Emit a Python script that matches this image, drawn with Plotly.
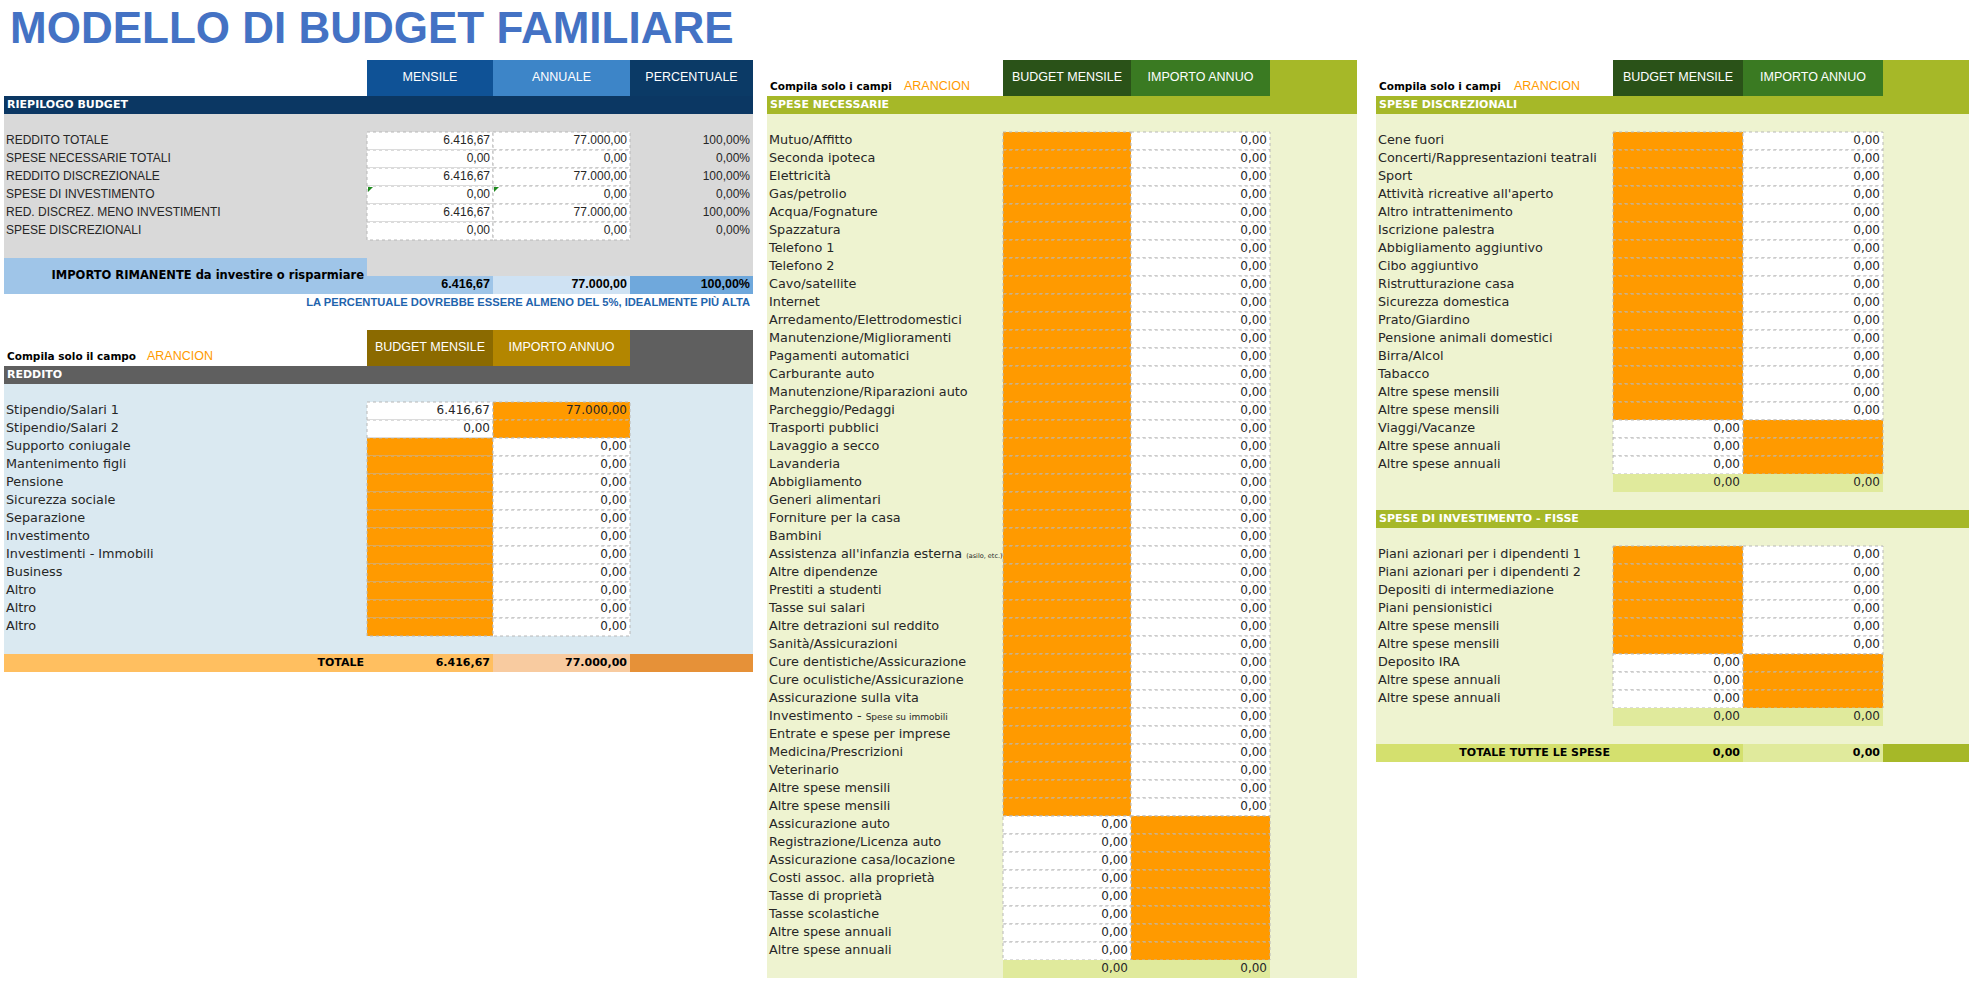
import plotly.graph_objects as go

# ---------------- dati ----------------
titolo = "MODELLO DI BUDGET FAMILIARE"

intest_riepilogo = ["MENSILE", "ANNUALE", "PERCENTUALE"]
intest_budget = ["BUDGET MENSILE", "IMPORTO ANNUO"]

riepilogo_voci = ["REDDITO TOTALE", "SPESE NECESSARIE TOTALI", "REDDITO DISCREZIONALE",
                  "SPESE DI INVESTIMENTO", "RED. DISCREZ. MENO INVESTIMENTI", "SPESE DISCREZIONALI"]
riepilogo_mensile = [6416.67, 0, 6416.67, 0, 6416.67, 0]
riepilogo_annuale = [77000, 0, 77000, 0, 77000, 0]
riepilogo_perc = [100, 0, 100, 0, 100, 0]
rimanente = [6416.67, 77000.00, 100.00]

reddito_voci = ["Stipendio/Salari 1", "Stipendio/Salari 2", "Supporto coniugale", "Mantenimento figli",
                "Pensione", "Sicurezza sociale", "Separazione", "Investimento", "Investimenti - Immobili",
                "Business", "Altro", "Altro", "Altro"]
reddito_input = ["A", "A"] + ["M"] * 11          # colonna arancione da compilare
reddito_inserito = [77000, None] + [None] * 11    # valore nella cella arancione
reddito_calcolato = [6416.67, 0] + [0] * 11       # valore nell'altra colonna
reddito_totale = [6416.67, 77000.00]

nec_voci = ["Mutuo/Affitto", "Seconda ipoteca", "Elettricità", "Gas/petrolio", "Acqua/Fognature",
            "Spazzatura", "Telefono 1", "Telefono 2", "Cavo/satellite", "Internet",
            "Arredamento/Elettrodomestici", "Manutenzione/Miglioramenti", "Pagamenti automatici",
            "Carburante auto", "Manutenzione/Riparazioni auto", "Parcheggio/Pedaggi", "Trasporti pubblici",
            "Lavaggio a secco", "Lavanderia", "Abbigliamento", "Generi alimentari", "Forniture per la casa",
            "Bambini", "Assistenza all'infanzia esterna <span style='font-size:6.5px'>(asilo, etc.)</span>",
            "Altre dipendenze", "Prestiti a studenti", "Tasse sui salari", "Altre detrazioni sul reddito",
            "Sanità/Assicurazioni", "Cure dentistiche/Assicurazione", "Cure oculistiche/Assicurazione",
            "Assicurazione sulla vita", "Investimento - <span style='font-size:9px'>Spese su immobili</span>",
            "Entrate e spese per imprese", "Medicina/Prescrizioni", "Veterinario", "Altre spese mensili",
            "Altre spese mensili", "Assicurazione auto", "Registrazione/Licenza auto",
            "Assicurazione casa/locazione", "Costi assoc. alla proprietà", "Tasse di proprietà",
            "Tasse scolastiche", "Altre spese annuali", "Altre spese annuali"]
nec_input = ["M"] * 38 + ["A"] * 8
nec_calcolato = [0] * 46
nec_totale = [0, 0]

disc_voci = ["Cene fuori", "Concerti/Rappresentazioni teatrali", "Sport", "Attività ricreative all'aperto",
             "Altro intrattenimento", "Iscrizione palestra", "Abbigliamento aggiuntivo", "Cibo aggiuntivo",
             "Ristrutturazione casa", "Sicurezza domestica", "Prato/Giardino", "Pensione animali domestici",
             "Birra/Alcol", "Tabacco", "Altre spese mensili", "Altre spese mensili", "Viaggi/Vacanze",
             "Altre spese annuali", "Altre spese annuali"]
disc_input = ["M"] * 16 + ["A"] * 3
disc_calcolato = [0] * 19
disc_totale = [0, 0]

inv_voci = ["Piani azionari per i dipendenti 1", "Piani azionari per i dipendenti 2",
            "Depositi di intermediazione", "Piani pensionistici", "Altre spese mensili",
            "Altre spese mensili", "Deposito IRA", "Altre spese annuali", "Altre spese annuali"]
inv_input = ["M"] * 6 + ["A"] * 3
inv_calcolato = [0] * 9
inv_totale = [0, 0]

totale_spese = [0, 0]

# ---------------- stile ----------------
W, H = 1979, 987
RH = 18
NARROW = "Liberation Sans, Arial, sans-serif"
GOTH = "DejaVu Sans, sans-serif"
ARANCIO = "#FF9A00"
VERDE_CHIARO = "#EEF3D0"
OLIVA = "#A6B828"
LIME = "#E0EA9C"
TXT = "#262626"

shapes = []
testi = {}


def fmt(v, perc=False):
    if v is None:
        return ""
    s = f"{v:,.2f}".replace(",", "X").replace(".", ",").replace("X", ".")
    return s + "%" if perc else s


def box(x0, x1, y0, y1, colore, bordo=False):
    linea = dict(color="#b8b8b8", width=1, dash="dot") if bordo else dict(width=0)
    shapes.append(dict(type="rect", xref="x", yref="y", x0=x0, x1=x1, y0=y0, y1=y1,
                       fillcolor=colore, line=linea, layer="below"))


def scrivi(x, y, t, fam=GOTH, size=12.8, col=TXT, pos="middle right"):
    k = (fam, size, col, pos)
    d = testi.setdefault(k, ([], [], []))
    d[0].append(x)
    d[1].append(y)
    d[2].append(t)


def righe(x_lab, x_m, x_a, x_r, y_top, voci, tipo, calcolato, inserito=None):
    for i, voce in enumerate(voci):
        y0 = y_top + i * RH
        yc = y0 + RH / 2
        scrivi(x_lab, yc, voce)
        val_in = inserito[i] if inserito else None
        if tipo[i] == "M":
            box(x_m, x_a, y0, y0 + RH, ARANCIO, True)
            box(x_a, x_r, y0, y0 + RH, "white", True)
            scrivi(x_r - 3, yc, fmt(calcolato[i]), size=12, pos="middle left")
            if val_in is not None:
                scrivi(x_a - 3, yc, fmt(val_in), size=12, pos="middle left")
        else:
            box(x_m, x_a, y0, y0 + RH, "white", True)
            box(x_a, x_r, y0, y0 + RH, ARANCIO, True)
            scrivi(x_a - 3, yc, fmt(calcolato[i]), size=12, pos="middle left")
            if val_in is not None:
                scrivi(x_r - 3, yc, fmt(val_in), size=12, pos="middle left")
    return y_top + len(voci) * RH


def intestazioni(xs, colori, y0, y1, etichette, col="white"):
    for i, c in enumerate(colori):
        box(xs[i], xs[i + 1], y0, y1, c)
        if i < len(etichette):
            scrivi((xs[i] + xs[i + 1]) / 2, (y0 + y1) / 2, etichette[i], NARROW, 12.5, col, "middle center")


# ---------------- titolo ----------------
scrivi(10, 32, "<b>" + titolo + "</b>", NARROW, 44, "#4472C4")

# ---------------- riepilogo budget ----------------
L = [4, 367, 493, 630, 753]
intestazioni(L[1:], ["#0F5296", "#3D85C8", "#0B3A66"], 60, 96, intest_riepilogo)
box(L[0], L[4], 96, 114, "#0B3763")
scrivi(7, 105, "<b>RIEPILOGO BUDGET</b>", GOTH, 11, "white")
box(L[0], L[4], 114, 276, "#D9D9D9")
for i, voce in enumerate(riepilogo_voci):
    y0 = 132 + i * RH
    yc = y0 + RH / 2
    box(L[1], L[2], y0, y0 + RH, "white", True)
    box(L[2], L[3], y0, y0 + RH, "white", True)
    scrivi(6, yc, voce, NARROW, 12)
    scrivi(L[2] - 3, yc, fmt(riepilogo_mensile[i]), NARROW, 12, pos="middle left")
    scrivi(L[3] - 3, yc, fmt(riepilogo_annuale[i]), NARROW, 12, pos="middle left")
    scrivi(L[4] - 3, yc, fmt(riepilogo_perc[i], True), NARROW, 12, pos="middle left")
    if voce == "SPESE DI INVESTIMENTO":
        for xx in (L[1], L[2]):
            shapes.append(dict(type="path", xref="x", yref="y", fillcolor="#1E8A1E", line=dict(width=0),
                               path=f"M {xx + 1},{y0 + 1} L {xx + 6},{y0 + 1} L {xx + 1},{y0 + 6} Z"))
box(L[0], L[1], 258, 294, "#9FC5E8")
for i, c in enumerate(["#9FC5E8", "#CFE2F3", "#6FA8DC"]):
    box(L[i + 1], L[i + 2], 276, 294, c)
    scrivi(L[i + 2] - 3, 285, "<b>" + fmt(rimanente[i], i == 2) + "</b>", NARROW, 12.5, "black", "middle left")
scrivi(L[1] - 3, 276, "<b>IMPORTO RIMANENTE da investire o risparmiare</b>", GOTH, 11.5, "black", "middle left")
scrivi(L[4] - 3, 303, "<b>LA PERCENTUALE DOVREBBE ESSERE ALMENO DEL 5%, IDEALMENTE PIÙ ALTA</b>",
       NARROW, 11.2, "#1F64AD", "middle left")

# ---------------- reddito ----------------
scrivi(7, 357, "<b>Compila solo il campo</b>", GOTH, 10.5, "black")
scrivi(147, 357, "ARANCION", NARROW, 12.5, ARANCIO)
intestazioni(L[1:], ["#8B6A00", "#B38600", "#5F5F5F"], 330, 366, intest_budget)
box(L[0], L[4], 366, 384, "#5F5F5F")
scrivi(7, 375, "<b>REDDITO</b>", GOTH, 11, "white")
box(L[0], L[4], 384, 654, "#DAE9F1")
righe(6, L[1], L[2], L[3], 402, reddito_voci, reddito_input, reddito_calcolato, reddito_inserito)
box(L[0], L[2], 654, 672, "#FFBF60")
box(L[2], L[3], 654, 672, "#F8CBA0")
box(L[3], L[4], 654, 672, "#E69138")
scrivi(L[1] - 3, 663, "<b>TOTALE</b>", GOTH, 11, "black", "middle left")
scrivi(L[2] - 3, 663, "<b>" + fmt(reddito_totale[0]) + "</b>", GOTH, 11, "black", "middle left")
scrivi(L[3] - 3, 663, "<b>" + fmt(reddito_totale[1]) + "</b>", GOTH, 11, "black", "middle left")

# ---------------- spese necessarie ----------------
M = [767, 1003, 1131, 1270, 1357]
intestazioni(M[1:], ["#2A5218", "#3A7A22", OLIVA], 60, 96, intest_budget)
scrivi(770, 87, "<b>Compila solo i campi</b>", GOTH, 10.5, "black")
scrivi(904, 87, "ARANCION", NARROW, 12.5, ARANCIO)
box(M[0], M[4], 96, 114, OLIVA)
scrivi(770, 105, "<b>SPESE NECESSARIE</b>", GOTH, 11, "white")
box(M[0], M[4], 114, 978, VERDE_CHIARO)
y = righe(769, M[1], M[2], M[3], 132, nec_voci, nec_input, nec_calcolato)
box(M[1], M[3], y, y + RH, LIME)
scrivi(M[2] - 3, y + 9, fmt(nec_totale[0]), size=12, pos="middle left")
scrivi(M[3] - 3, y + 9, fmt(nec_totale[1]), size=12, pos="middle left")

# ---------------- spese discrezionali / investimento ----------------
R = [1376, 1613, 1743, 1883, 1969]
intestazioni(R[1:], ["#2A5218", "#3A7A22", OLIVA], 60, 96, intest_budget)
scrivi(1379, 87, "<b>Compila solo i campi</b>", GOTH, 10.5, "black")
scrivi(1514, 87, "ARANCION", NARROW, 12.5, ARANCIO)
box(R[0], R[4], 96, 114, OLIVA)
scrivi(1379, 105, "<b>SPESE DISCREZIONALI</b>", GOTH, 11, "white")
box(R[0], R[4], 114, 762, VERDE_CHIARO)
y = righe(1378, R[1], R[2], R[3], 132, disc_voci, disc_input, disc_calcolato)
box(R[1], R[3], y, y + RH, LIME)
scrivi(R[2] - 3, y + 9, fmt(disc_totale[0]), size=12, pos="middle left")
scrivi(R[3] - 3, y + 9, fmt(disc_totale[1]), size=12, pos="middle left")

yb = y + 2 * RH
box(R[0], R[4], yb, yb + RH, OLIVA)
scrivi(1379, yb + 9, "<b>SPESE DI INVESTIMENTO - FISSE</b>", GOTH, 11, "white")
y = righe(1378, R[1], R[2], R[3], yb + 2 * RH, inv_voci, inv_input, inv_calcolato)
box(R[1], R[3], y, y + RH, LIME)
scrivi(R[2] - 3, y + 9, fmt(inv_totale[0]), size=12, pos="middle left")
scrivi(R[3] - 3, y + 9, fmt(inv_totale[1]), size=12, pos="middle left")

yt = y + 2 * RH
box(R[0], R[2], yt, yt + RH, "#D4E06E")
box(R[2], R[3], yt, yt + RH, LIME)
box(R[3], R[4], yt, yt + RH, OLIVA)
scrivi(R[1] - 3, yt + 9, "<b>TOTALE TUTTE LE SPESE</b>", GOTH, 11, "black", "middle left")
scrivi(R[2] - 3, yt + 9, "<b>" + fmt(totale_spese[0]) + "</b>", GOTH, 11, "black", "middle left")
scrivi(R[3] - 3, yt + 9, "<b>" + fmt(totale_spese[1]) + "</b>", GOTH, 11, "black", "middle left")

# ---------------- figura ----------------
fig = go.Figure()
for (fam, size, col, pos), (xs, ys, ts) in testi.items():
    fig.add_trace(go.Scatter(x=xs, y=ys, text=ts, mode="text", textposition=pos,
                             textfont=dict(family=fam, size=size, color=col),
                             hoverinfo="skip", showlegend=False, cliponaxis=False))

fig.update_layout(width=W, height=H, margin=dict(l=0, r=0, t=0, b=0),
                  paper_bgcolor="white", plot_bgcolor="white", shapes=shapes,
                  xaxis=dict(range=[0, W], visible=False, fixedrange=True),
                  yaxis=dict(range=[H, 0], visible=False, fixedrange=True),
                  hovermode=False, showlegend=False)

fig.write_html("out.html", post_script="document.body.style.margin='0';",
               config={"displayModeBar": False})
